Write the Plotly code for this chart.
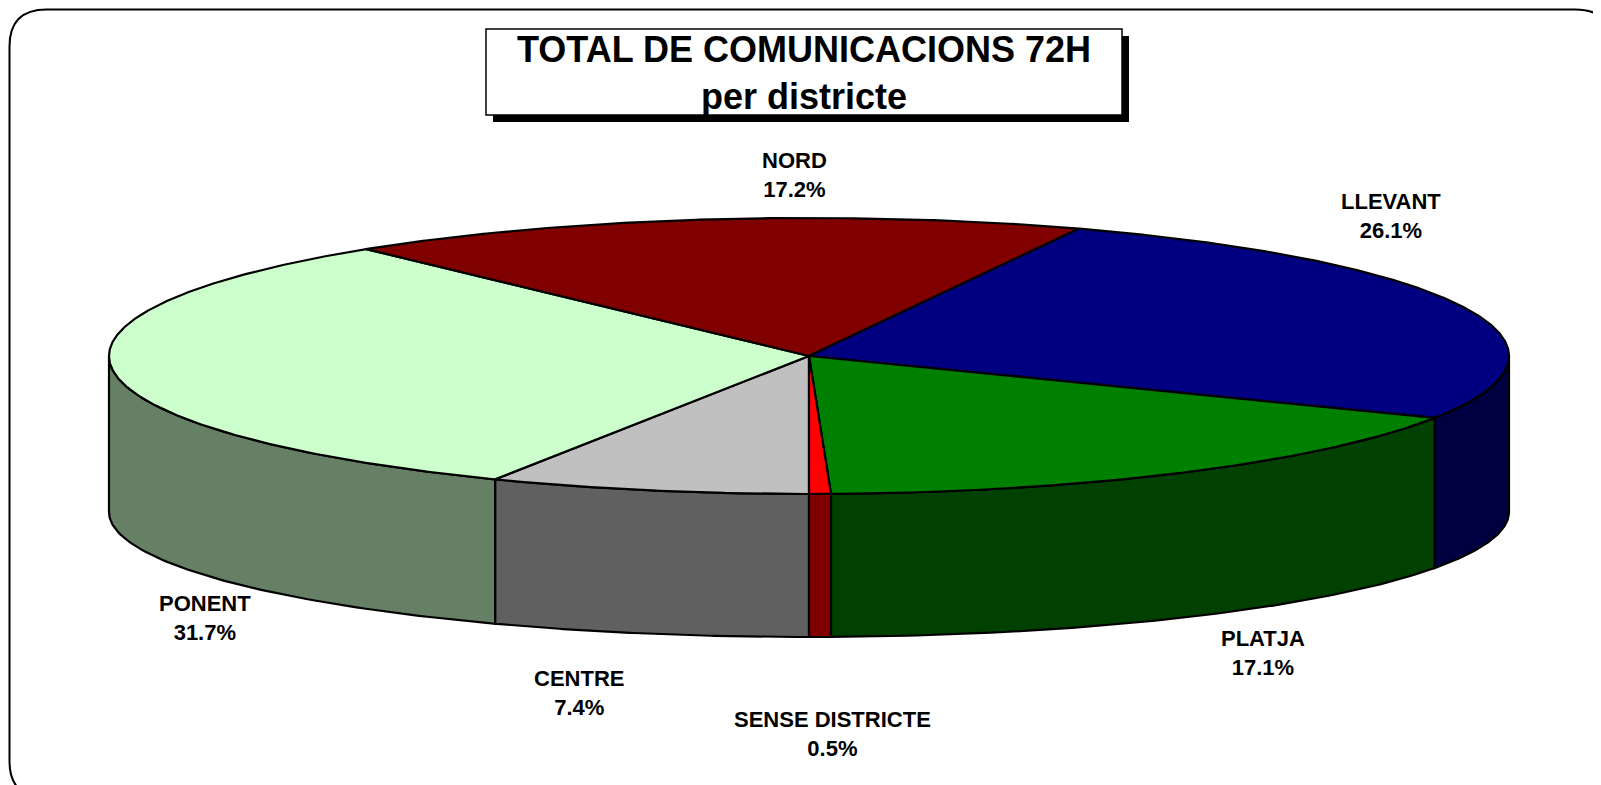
import numpy as np
import plotly.graph_objects as go

# ---- data ----
districts = ["CENTRE", "PONENT", "NORD", "LLEVANT", "PLATJA", "SENSE DISTRICTE"]
shares = [7.4, 31.7, 17.2, 26.1, 17.1, 0.5]

# ---- styles ----
top_colors = ["#C0C0C0", "#CCFFCC", "#800000", "#000080", "#008000", "#FF0000"]
side_colors = ["#606060", "#668066", "#400000", "#000040", "#004000", "#800000"]
label_pos = {  # annotation anchors (page pixels)
    "CENTRE": (579, 693), "PONENT": (205, 618), "NORD": (794, 175),
    "LLEVANT": (1391, 216), "PLATJA": (1263, 653), "SENSE DISTRICTE": (832, 734),
}
PAGE_MARGIN = 8           # browser default body margin
W, H = 1601 - PAGE_MARGIN, 785 - PAGE_MARGIN
cx, rx = 809, 700
cy_top, ry_top = 356, 138
cy_bot, ry_bot = 512, 125
FONT = "Liberation Sans, Arial, sans-serif"
LW = 2.2

fig = go.Figure()

total = sum(shares)
bounds = np.concatenate([[0], np.cumsum(shares) / total]) * 2 * np.pi


def top_pt(t):
    return cx - rx * np.sin(t), cy_top + ry_top * np.cos(t)


def bot_pt(t):
    return cx - rx * np.sin(t), cy_bot + ry_bot * np.cos(t)


front_ranges = [(0.0, np.pi / 2), (1.5 * np.pi, 2 * np.pi)]

# side walls (front half only)
for i, name in enumerate(districts):
    a, b = bounds[i], bounds[i + 1]
    for fa, fb in front_ranges:
        lo, hi = max(a, fa), min(b, fb)
        if hi <= lo:
            continue
        t = np.linspace(lo, hi, 80)
        xt, yt = top_pt(t)
        xb, yb = bot_pt(t[::-1])
        xs = np.concatenate([xt, xb, xt[:1]])
        ys = np.concatenate([yt, yb, yt[:1]])
        fig.add_trace(go.Scatter(x=xs, y=ys, mode="lines", fill="toself",
                                 fillcolor=side_colors[i],
                                 line=dict(color="black", width=LW),
                                 hoverinfo="skip", showlegend=False))

# top faces
for i, name in enumerate(districts):
    a, b = bounds[i], bounds[i + 1]
    t = np.linspace(a, b, max(4, int(200 * (b - a))))
    xt, yt = top_pt(t)
    xs = np.concatenate([[cx], xt, [cx]])
    ys = np.concatenate([[cy_top], yt, [cy_top]])
    fig.add_trace(go.Scatter(x=xs, y=ys, mode="lines", fill="toself",
                             fillcolor=top_colors[i],
                             line=dict(color="black", width=LW),
                             hoverinfo="skip", showlegend=False, name=name))

# labels
for name, val in zip(districts, shares):
    x, y = label_pos[name]
    fig.add_annotation(x=x, y=y, xref="x", yref="y", showarrow=False,
                       text=f"<b>{name}<br>{val:.1f}%</b>", align="center",
                       font=dict(family=FONT, size=22, color="black"))

# outer rounded border
r = 37
x0, y0, x1, y1 = 9.5, 9.5, 1612, 798
path = (f"M {x0 + r},{y0} L {x1 - r},{y0} Q {x1},{y0} {x1},{y0 + r} "
        f"L {x1},{y1 - r} Q {x1},{y1} {x1 - r},{y1} L {x0 + r},{y1} "
        f"Q {x0},{y1} {x0},{y1 - r} L {x0},{y0 + r} Q {x0},{y0} {x0 + r},{y0} Z")
fig.add_shape(type="path", path=path, xref="x", yref="y",
              line=dict(color="black", width=2), layer="below")

# title box with shadow
bx0, by0, bx1, by1 = 486, 29, 1122, 115
sh = 7
fig.add_shape(type="rect", x0=bx0 + sh, y0=by0 + sh, x1=bx1 + sh, y1=by1 + sh,
              xref="x", yref="y", fillcolor="black", line=dict(width=0))
fig.add_shape(type="rect", x0=bx0, y0=by0, x1=bx1, y1=by1, xref="x", yref="y",
              fillcolor="white", line=dict(color="black", width=1.5))
fig.add_annotation(x=(bx0 + bx1) / 2, y=(by0 + by1) / 2 + 1, xref="x", yref="y",
                   showarrow=False, align="center",
                   text="<b>TOTAL DE COMUNICACIONS 72H<br>per districte</b>",
                   font=dict(family=FONT, size=36, color="black"))

fig.update_layout(
    width=W, height=H, margin=dict(l=0, r=0, t=0, b=0),
    paper_bgcolor="white", plot_bgcolor="white", showlegend=False,
    xaxis=dict(range=[PAGE_MARGIN, PAGE_MARGIN + W], visible=False, fixedrange=True),
    yaxis=dict(range=[PAGE_MARGIN + H, PAGE_MARGIN], visible=False, fixedrange=True),
)

fig.write_html("out.html")
